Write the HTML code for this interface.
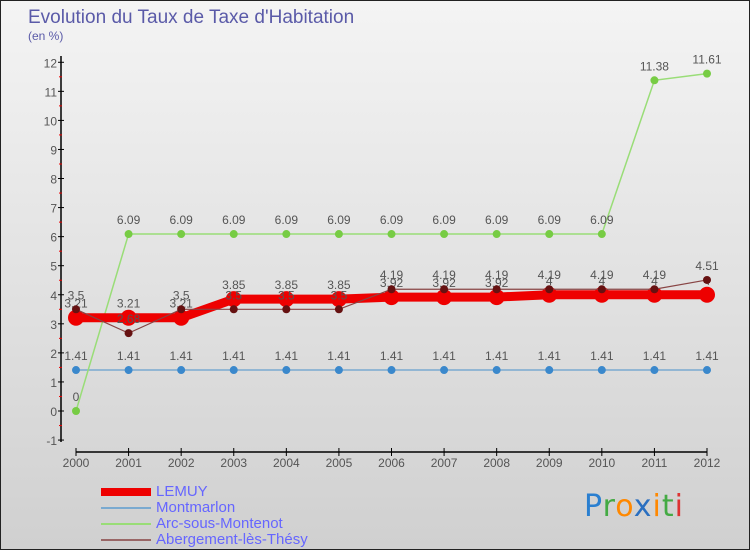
<!DOCTYPE html>
<html><head><meta charset="utf-8"><style>
body{margin:0;width:750px;height:550px;overflow:hidden;font-family:"Liberation Sans",sans-serif}
#wrap{position:relative;width:748px;height:548px;border:1px solid #222;background:linear-gradient(#f4f4f4,#d0d0d0)}
.t{position:absolute;left:27px;top:6px;font-size:19px;color:#5a5aa8}
.s{position:absolute;left:27px;top:28px;font-size:12px;color:#5a5aa8}
.lg{position:absolute;left:100px;font-size:15px;color:#6666ff;line-height:16px}
.lg span{display:inline-block;width:50px;vertical-align:middle;margin-right:5px}
</style></head><body>
<div id="wrap">
<div class="t">Evolution du Taux de Taxe d'Habitation</div>
<div class="s">(en %)</div>
<svg id="c" width="750" height="550" style="position:absolute;left:0;top:0"></svg>
<div class="lg" style="top:483px"><span style="height:8px;background:#e00"></span>LEMUY</div>
<div class="lg" style="top:499px"><span style="height:2px;background:#7aaad0"></span>Montmarlon</div>
<div class="lg" style="top:515px"><span style="height:2px;background:#99dd77"></span>Arc-sous-Montenot</div>
<div class="lg" style="top:531px"><span style="height:2px;background:#996666"></span>Abergement-lès-Thésy</div>
<div style="position:absolute;left:583px;top:488px;font-size:30px;font-family:'DejaVu Sans',sans-serif;letter-spacing:1px"><span style="color:#2a7fd0">P</span><span style="color:#4a4">r</span><span style="color:#f80">o</span><span style="color:#2a6fc0">x</span><span style="color:#f80">i</span><span style="color:#4a4">t</span><span style="color:#d33">i</span></div>
</div>
<script>
const years=[2000,2001,2002,2003,2004,2005,2006,2007,2008,2009,2010,2011,2012];
const lemuy=[3.21,3.21,3.21,3.85,3.85,3.85,3.92,3.92,3.92,4,4,4,4];
const montmarlon=[1.41,1.41,1.41,1.41,1.41,1.41,1.41,1.41,1.41,1.41,1.41,1.41,1.41];
const arc=[0,6.09,6.09,6.09,6.09,6.09,6.09,6.09,6.09,6.09,6.09,11.38,11.61];
const aberg=[3.5,2.68,3.5,3.5,3.5,3.5,4.19,4.19,4.19,4.19,4.19,4.19,4.51];
const yTicks=[-1,0,1,2,3,4,5,6,7,8,9,10,11,12];
const svg=document.getElementById('c');const NS='http://www.w3.org/2000/svg';
const X=i=>75+i*(631/12);const Y=v=>410-v*29.06;
function mk(t,a,p){const e=document.createElementNS(NS,t);for(const k in a)e.setAttribute(k,a[k]);(p||svg).appendChild(e);return e;}
let ax=mk('line',{x1:60,y1:Y(-1)+2,x2:60,y2:55,stroke:'#000','stroke-width':1.5});


let xa=mk('line',{x1:75,y1:451,x2:706,y2:451,stroke:'#000','stroke-width':1.5});


yTicks.forEach(v=>{mk('line',{x1:57,x2:63,y1:Y(v),y2:Y(v),stroke:'#000'});
if(v<12)mk('line',{x1:58,x2:61,y1:Y(v+0.5),y2:Y(v+0.5),stroke:'#e00'});
let t=mk('text',{x:56,y:Y(v)+5,'text-anchor':'end','font-size':12,fill:'#555'});t.textContent=v;

});
years.forEach((y,i)=>{mk('line',{x1:X(i),x2:X(i),y1:447,y2:455,stroke:'#000'});
let t=mk('text',{x:X(i),y:466,'text-anchor':'middle','font-size':12,fill:'#555'});t.textContent=y;

});
function series(d,col,w,r,mc,name){
const g=mk('g',{});


mk('polyline',{points:d.map((v,i)=>X(i)+','+Y(v)).join(' '),fill:'none',stroke:col,'stroke-width':w},g);
d.forEach((v,i)=>{mk('circle',{cx:X(i),cy:Y(v),r:r,fill:mc},g);
let t=mk('text',{x:X(i),y:Y(v)-10,'text-anchor':'middle','font-size':12,fill:'#555'},g);t.textContent=v;});}
series(montmarlon,'#7aaad0',1.5,4,'#3a88cc','series-montmarlon');
series(arc,'#99dd77',1.5,4,'#77cc44','series-arc');
series(lemuy,'#e00',9,8,'#e00','series-lemuy');
series(aberg,'#884444',1.2,4,'#661111','series-abergement');
</script>
</body></html>
